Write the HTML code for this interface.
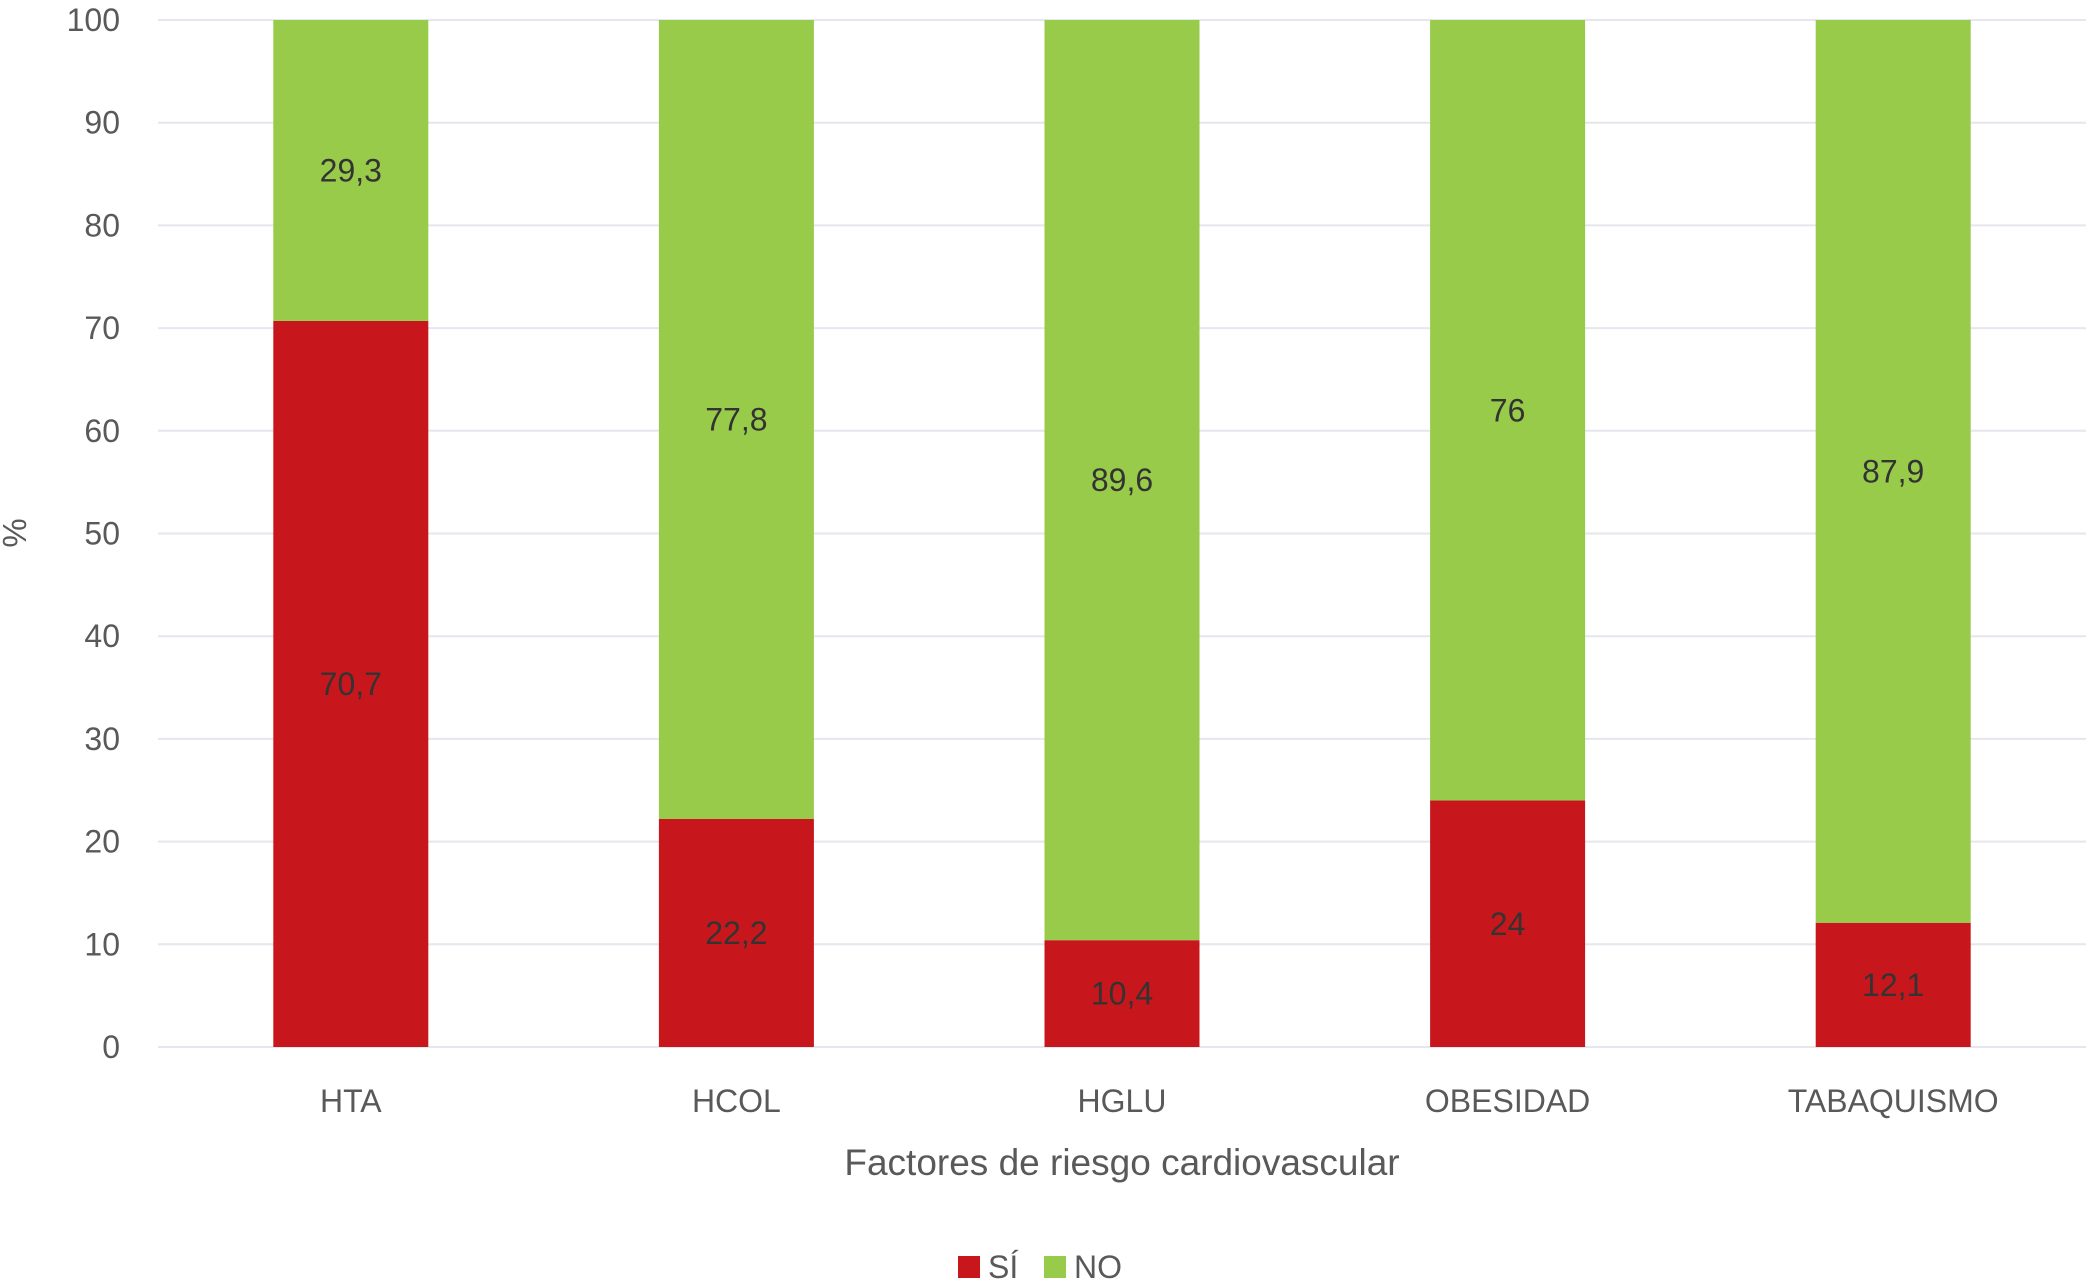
<!DOCTYPE html>
<html><head><meta charset="utf-8"><style>
body{margin:0;background:#fff;}
svg{display:block;font-family:"Liberation Sans",sans-serif;}
</style></head><body>
<svg id="chart" width="2091" height="1286">
<g id="grid"></g>
<g id="yaxis"></g>
<g id="bars"></g>
<g id="xaxis"></g>
<text x="26" y="533" transform="rotate(-90 26 533)" text-anchor="middle" font-size="33" fill="#595959">%</text>
<text x="1122" y="1175" text-anchor="middle" font-size="37" fill="#595959">Factores de riesgo cardiovascular</text>
<g>
<g><rect x="958" y="1256" width="22" height="22" fill="#c8171c"/><text x="988" y="1278" font-size="32" fill="#595959">SÍ</text></g>
<g><rect x="1044" y="1256" width="22" height="22" fill="#98cb4a"/><text x="1074" y="1278" font-size="32" fill="#595959">NO</text></g>
</g>
</svg>
<script>
const categories=["HTA","HCOL","HGLU","OBESIDAD","TABAQUISMO"];
const siValues=[70.7,22.2,10.4,24,12.1];
const noValues=[29.3,77.8,89.6,76,87.9];
const siLabels=["70,7","22,2","10,4","24","12,1"];
const noLabels=["29,3","77,8","89,6","76","87,9"];
const yTicks=[0,10,20,30,40,50,60,70,80,90,100];
const NS="http://www.w3.org/2000/svg";
const plotLeft=158,plotRight=2086,plotTop=20,plotBottom=1047,yMax=100;
const band=(plotRight-plotLeft)/categories.length,barW=155;
const yScale=v=>plotBottom-(v/yMax)*(plotBottom-plotTop);
const xc=i=>plotLeft+band*(i+0.5);
function mk(t,a,p){const e=document.createElementNS(NS,t);for(const k in a)e.setAttribute(k,a[k]);p.appendChild(e);return e;}
const grid=document.getElementById('grid'),ya=document.getElementById('yaxis'),bars=document.getElementById('bars'),xa=document.getElementById('xaxis');
yTicks.forEach(t=>{
 const l=mk('line',{x1:plotLeft,x2:plotRight,y1:yScale(t),y2:yScale(t),stroke:'#e6e6ee','stroke-width':2},grid);
 
 
 const tx=mk('text',{x:120,y:yScale(t)+11,'text-anchor':'end','font-size':32,fill:'#595959'},ya);
 tx.textContent=t;
 
 
});
categories.forEach((c,i)=>{
 const x=xc(i)-barW/2;
 const r1=mk('rect',{x:x,y:yScale(siValues[i]),width:barW,height:yScale(0)-yScale(siValues[i]),fill:'#c8171c'},bars);
 
 
 const top2=siValues[i]+noValues[i];
 const r2=mk('rect',{x:x,y:yScale(top2),width:barW,height:yScale(siValues[i])-yScale(top2),fill:'#98cb4a'},bars);
 
 
 const t1=mk('text',{x:xc(i),y:yScale(siValues[i]/2)+11,'text-anchor':'middle','font-size':32,fill:'#333'},bars);
 t1.textContent=siLabels[i];
 
 
 const t2=mk('text',{x:xc(i),y:yScale(siValues[i]+noValues[i]/2)+11,'text-anchor':'middle','font-size':32,fill:'#333'},bars);
 t2.textContent=noLabels[i];
 
 
 const ct=mk('text',{x:xc(i),y:1112,'text-anchor':'middle','font-size':32,fill:'#595959'},xa);
 ct.textContent=c;
 
 
});
</script>
</body></html>
